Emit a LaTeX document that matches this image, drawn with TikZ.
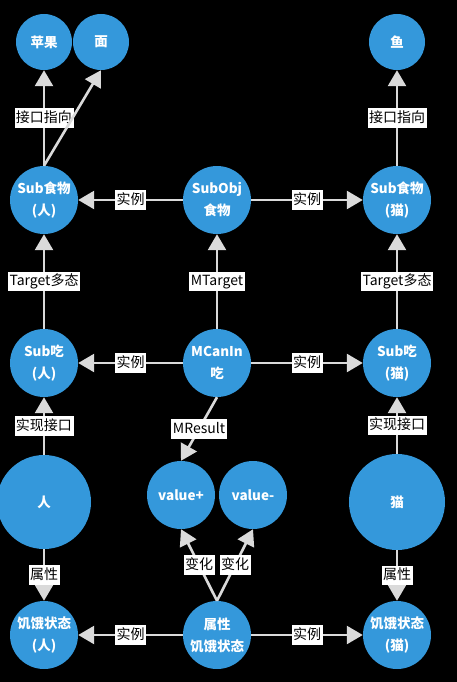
\documentclass[tikz,border=0pt]{standalone}
\usepackage{fontspec}
\setmainfont{Noto Sans CJK SC}
\usetikzlibrary{arrows.meta}
\definecolor{nodeblue}{HTML}{3498DB}
\definecolor{edgegray}{HTML}{DADADA}
\begin{document}
\begin{tikzpicture}[x=1pt,y=-1pt,
  circ/.style={circle,fill=nodeblue,inner sep=0pt,text=white,
    font=\bfseries\fontsize{13.5}{22}\selectfont,align=center,minimum size=#1},
  circ/.default=68pt,
  edge/.style={draw=edgegray,line width=2.6pt,-{Triangle[length=16pt,width=18pt]}},
  lab/.style={fill=white,text=black,font=\fontsize{14}{16}\selectfont,
    inner xsep=1.5pt,inner ysep=2pt,text height=12pt,text depth=3.5pt}]
\fill[black] (0,0) rectangle (457,682);
\useasboundingbox (0,0) rectangle (457,682);

\node[circ=56pt] (apple) at (44,42) {苹果};
\node[circ=56pt] (mian) at (101,42) {面};
\node[circ=56pt] (yu) at (397,42) {鱼};
\node[circ] (sfp) at (44,200) {Sub食物\\(人)};
\node[circ] (sobj) at (217,200) {SubObj\\食物};
\node[circ] (sfc) at (397,200) {Sub食物\\(猫)};
\node[circ] (sep) at (44,363) {Sub吃\\(人)};
\node[circ] (mcan) at (217,363) {MCanIn\\吃};
\node[circ] (sec) at (397,363) {Sub吃\\(猫)};
\node[circ=94pt] (ren) at (44,502) {人};
\node[circ] (vplus) at (181,495) {value+};
\node[circ] (vminus) at (253,495) {value-};
\node[circ=96pt] (mao) at (397,502) {猫};
\node[circ] (hp) at (44,635) {饥饿状态\\(人)};
\node[circ] (hs) at (217,635) {属性\\饥饿状态};
\node[circ] (hc) at (397,635) {饥饿状态\\(猫)};

\draw[edge] (sfp.north) -- node[lab]{接口指向} (apple.south);
\draw[edge] (sfp.north) -- (mian.south);
\draw[edge] (sfc) -- node[lab]{接口指向} (yu);
\draw[edge] (sobj) -- node[lab]{实例} (sfp);
\draw[edge] (sobj) -- node[lab]{实例} (sfc);
\draw[edge] (sep) -- node[lab]{Target多态} (sfp);
\draw[edge] (mcan) -- node[lab]{MTarget} (sobj);
\draw[edge] (sec) -- node[lab]{Target多态} (sfc);
\draw[edge] (mcan) -- node[lab]{实例} (sep);
\draw[edge] (mcan) -- node[lab]{实例} (sec);
\draw[edge] (ren) -- node[lab]{实现接口} (sep);
\draw[edge] (mao) -- node[lab]{实现接口} (sec);
\draw[edge] (mcan.south) -- node[lab]{MResult} (vplus.north);
\draw[edge] (ren) -- node[lab]{属性} (hp);
\draw[edge] (mao) -- node[lab]{属性} (hc);
\draw[edge] (hs.north) -- node[lab]{变化} (vplus.south);
\draw[edge] (hs.north) -- node[lab]{变化} (vminus.south);
\draw[edge] (hs) -- node[lab]{实例} (hp);
\draw[edge] (hs) -- node[lab]{实例} (hc);
\end{tikzpicture}
\end{document}
